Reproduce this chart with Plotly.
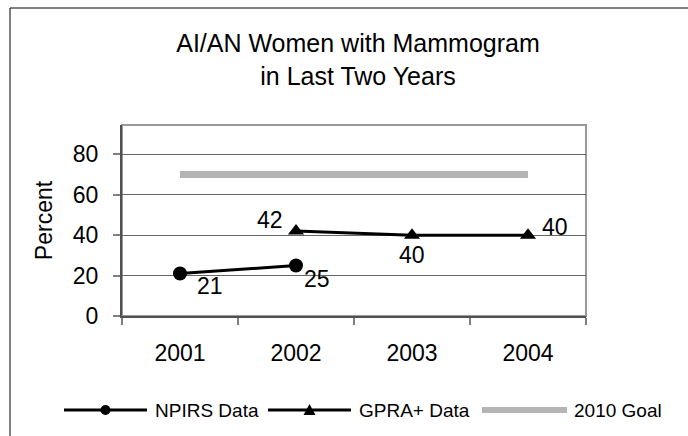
import plotly.graph_objects as go

years = ["2001", "2002", "2003", "2004"]
npirs = [21, 25, None, None]
gpra = [None, 42, 40, 40]
goal = [70, 70, 70, 70]
series_names = ["NPIRS Data", "GPRA+ Data", "2010 Goal"]
# label offsets in pixels (dx, dy) for each point
npirs_off = [(30, -12), (21, -14), (0, 0), (0, 0)]
gpra_off = [(0, 0), (-26, 11), (0, -20), (27, 8)]

FONT = "Liberation Sans, Arial, sans-serif"
xs = list(range(len(years)))

fig = go.Figure()
fig.add_trace(go.Scatter(
    x=xs, y=npirs, name=series_names[0], mode="lines+markers",
    line=dict(color="black", width=3),
    marker=dict(symbol="circle", size=14, color="black"),
    showlegend=False,
))
fig.add_trace(go.Scatter(
    x=xs, y=gpra, name=series_names[1], mode="lines+markers",
    line=dict(color="black", width=3),
    marker=dict(symbol="triangle-up", size=14, color="black"),
    showlegend=False,
))
fig.add_trace(go.Scatter(
    x=xs, y=goal, name=series_names[2], mode="lines",
    line=dict(color="#b4b4b4", width=7),
    showlegend=False,
))

# data labels
for vals, offs in ((npirs, npirs_off), (gpra, gpra_off)):
    for xv, yv, (dx, dy) in zip(xs, vals, offs):
        if yv is None:
            continue
        fig.add_annotation(x=xv, y=yv, xref="x", yref="y", text=str(yv),
                           showarrow=False, xshift=dx, yshift=dy,
                           font=dict(size=23, family=FONT, color="black"))

L, R, T, B = 122, 586, 125, 316
W, H = 688, 436
pw, ph = R - L, B - T

def px_x(p):
    return (p - L) / pw

def px_y(p):
    return (B - p) / ph

# outer chart frame
fig.add_shape(type="rect", xref="paper", yref="paper",
              x0=px_x(10), x1=px_x(720), y0=px_y(460), y1=px_y(8),
              line=dict(color="black", width=1), fillcolor="rgba(0,0,0,0)",
              layer="below")
# plot-area border (light gray)
fig.add_shape(type="rect", xref="paper", yref="paper",
              x0=0, x1=1, y0=0, y1=1,
              line=dict(color="#999999", width=2), fillcolor="rgba(0,0,0,0)",
              layer="below")

# manual legend (sample lines, symbols and labels)
LEG_Y = 410
leg_items = [
    dict(x0=64, x1=147, tx=153, color="black", width=3, sym="circle"),
    dict(x0=268, x1=351, tx=357, color="black", width=3, sym="triangle"),
    dict(x0=482, x1=567, tx=572, color="#b4b4b4", width=6, sym=None),
]
for name, it in zip(series_names, leg_items):
    fig.add_shape(type="line", xref="paper", yref="paper",
                  x0=px_x(it["x0"]), x1=px_x(it["x1"]),
                  y0=px_y(LEG_Y), y1=px_y(LEG_Y),
                  line=dict(color=it["color"], width=it["width"]))
    cx = (it["x0"] + it["x1"]) / 2
    if it["sym"] == "circle":
        r = 5
        fig.add_shape(type="circle", xref="paper", yref="paper",
                      x0=px_x(cx - r), x1=px_x(cx + r),
                      y0=px_y(LEG_Y + r), y1=px_y(LEG_Y - r),
                      fillcolor="black", line=dict(color="black", width=0))
    elif it["sym"] == "triangle":
        s = 6
        path = "M {} {} L {} {} L {} {} Z".format(
            px_x(cx - s), px_y(LEG_Y + 5), px_x(cx + s), px_y(LEG_Y + 5),
            px_x(cx), px_y(LEG_Y - 6))
        fig.add_shape(type="path", xref="paper", yref="paper", path=path,
                      fillcolor="black", line=dict(color="black", width=0))
    fig.add_annotation(x=px_x(it["tx"]), y=px_y(LEG_Y), xref="paper", yref="paper",
                       text=name, showarrow=False, xanchor="left", yanchor="middle",
                       font=dict(size=19, family=FONT, color="black"))

fig.update_layout(
    width=W, height=H,
    margin=dict(l=L, r=W - R, t=T, b=H - B, autoexpand=False),
    paper_bgcolor="white", plot_bgcolor="white",
    font=dict(family=FONT, color="black", size=23),
    title=dict(text="AI/AN Women with Mammogram<br>in Last Two Years",
               x=358 / W, xref="container", xanchor="center",
               y=1 - 52 / H, yref="container", yanchor="middle",
               font=dict(size=25, family=FONT, color="black")),
    showlegend=False,
)
bounds = [i - 0.5 for i in range(len(years) + 1)]
fig.update_xaxes(
    type="linear", range=[-0.5, len(years) - 0.5],
    tickmode="array", tickvals=xs, ticktext=years, ticks="",
    minor=dict(tickmode="array", tickvals=bounds, ticks="outside", ticklen=7,
               tickcolor="#808080", tickwidth=1.5, showgrid=False),
    automargin=False, zeroline=False,
    showline=True, linecolor="#505050", linewidth=2, mirror=False,
    showgrid=False, ticklabelstandoff=15,
    tickfont=dict(size=23, family=FONT, color="black"),
)
fig.update_yaxes(
    range=[0, 94.5], dtick=20, tick0=0, ticks="outside", ticklen=7,
    tickcolor="#808080", tickwidth=1.5, automargin=False,
    showline=True, linecolor="#505050", linewidth=2, mirror=False,
    showgrid=True, gridcolor="#666666", gridwidth=1, zeroline=False,
    ticklabelstandoff=10,
    tickfont=dict(size=23, family=FONT, color="black"),
    title=dict(text="Percent", standoff=14,
               font=dict(size=23, family=FONT, color="black")),
)

fig.write_html("out.html", post_script="document.body.style.margin='0';",
               config={"displayModeBar": False})
